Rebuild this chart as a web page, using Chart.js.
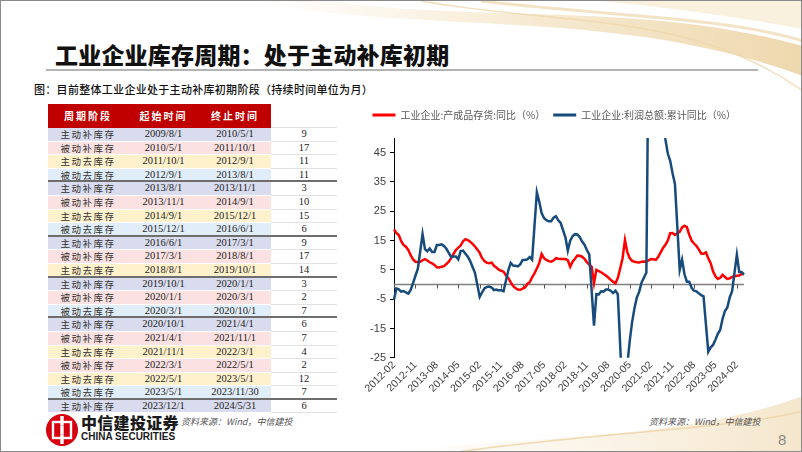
<!DOCTYPE html>
<html>
<head>
<meta charset="utf-8">
<script src="https://cdn.jsdelivr.net/npm/chart.js@4.4.1/dist/chart.umd.min.js"></script>
<style>
  html, body { margin: 0; padding: 0; background: #fff; }
  .slide {
    position: relative; width: 802px; height: 452px; overflow: hidden;
    box-sizing: border-box; border: 1px solid #8a8a8a; background: #fff;
    font-family: "Noto Sans CJK SC", sans-serif;
  }
  .deco { position: absolute; left: 0; top: 0; }
  .title {
    position: absolute; left: 54px; top: 36px; font-size: 23px; font-weight: 900;
    color: #111; letter-spacing: 0.2px; white-space: nowrap;
  }
  .rule { position: absolute; left: 45px; top: 68px; width: 712px; height: 2px; background: #b4b4b4; }
  .sub {
    position: absolute; left: 33px; top: 80px; font-size: 11px; font-weight: 500;
    color: #111; white-space: nowrap; letter-spacing: 0.3px;
  }
  #tbl { position: absolute; left: 47px; top: 103px; width: 289px; }
  .row { display: flex; height: 13.6px; box-sizing: border-box; }
  .row div { box-sizing: border-box; text-align: center; line-height: 12.6px; border-bottom: 1px solid #fff; }
  .hdr { height: 24px; background: #c00000; }
  .hdr div { color: #fff; font-size: 10px; font-weight: 700; letter-spacing: 2px; line-height: 24px; border: none; }
  .c1 { width: 80px; } .c2 { width: 71px; } .c3 { width: 72px; } .c4 { width: 66px; }
  .ph { font-size: 9.5px; letter-spacing: 1.5px; color: #333; }
  .dt { font-family: "Liberation Serif", serif; font-size: 10.5px; color: #222; }
  .row div.c4 { background: #fff; border-bottom: 1px solid #e2e2e2; }
  .row.brk div, .row.brk div.c4 { border-bottom: 2px solid #6e6e6e; }
  #chartBox { position: absolute; left: 340px; top: 101px; width: 440px; height: 294px; }
  .brand { position: absolute; left: 80px; top: 409px; font-size: 16px; font-weight: 900; color: #1a1a1a; letter-spacing: 0.3px; }
  .brand-en { position: absolute; left: 80px; top: 430px; font-family: "Liberation Sans", sans-serif; font-size: 10px; font-weight: 700; color: #1a1a1a; }
  .src { position: absolute; top: 414px; font-size: 9px; font-style: italic; color: #555; white-space: nowrap; }
  .page { position: absolute; left: 777px; top: 430px; font-family: "Liberation Sans", sans-serif; font-size: 15px; color: #8a8a8a; }
</style>
</head>
<body>
<div class="slide">
  <svg class="deco" width="802" height="452">
    <defs>
      <linearGradient id="g1" x1="0" y1="0" x2="1" y2="0">
        <stop offset="0" stop-color="#f3e2c0" stop-opacity="0"/>
        <stop offset="0.5" stop-color="#f1dcb4" stop-opacity="0.6"/>
        <stop offset="1" stop-color="#ecd3a4" stop-opacity="0.9"/>
      </linearGradient>
      <linearGradient id="g2" x1="0" y1="0" x2="1" y2="0">
        <stop offset="0" stop-color="#f3e2c0" stop-opacity="0"/>
        <stop offset="1" stop-color="#efd8ae" stop-opacity="0.9"/>
      </linearGradient>
    </defs>
    <path d="M250,0 C430,35 610,5 802,75 L802,45 C640,0 480,22 330,0 Z" fill="url(#g1)"/>
    <path d="M420,0 C560,25 690,10 802,90" fill="none" stroke="#eed7ac" stroke-width="1.5" opacity="0.8"/>
    <path d="M480,0 C600,15 720,15 802,40" fill="none" stroke="#f0dcb6" stroke-width="3" opacity="0.8"/>
    <path d="M600,0 C680,8 750,18 802,28 L802,0 Z" fill="#f5e6c8" opacity="0.6"/>
    <path d="M380,452 C520,435 680,440 802,395 L802,452 Z" fill="url(#g2)" opacity="0.7"/>
    <path d="M450,452 C600,430 720,430 802,410" fill="none" stroke="#ecd2a2" stroke-width="1.5" opacity="0.8"/>
  </svg>

  <div class="title">工业企业库存周期：处于主动补库初期</div>
  <div class="rule"></div>
  <div class="sub">图：目前整体工业企业处于主动补库初期阶段（持续时间单位为月）</div>

  <div id="tbl"></div>

  <div id="chartBox"><canvas id="myChart"></canvas></div>

  <svg style="position:absolute;left:44px;top:412px" width="34" height="34">
    <circle cx="17" cy="17" r="16" fill="#d7000f"/>
    <rect x="8" y="9" width="18" height="16" fill="none" stroke="#fff" stroke-width="2.4"/>
    <rect x="15.3" y="3" width="3.4" height="28" fill="#fff"/>
    <rect x="12" y="12.5" width="10" height="9" fill="#d7000f"/>
    <rect x="15.3" y="12.5" width="3.4" height="9" fill="#fff"/>
  </svg>
  <div class="brand">中信建投证券</div>
  <div class="brand-en">CHINA SECURITIES</div>
  <div class="src" style="left:180px">资料来源：Wind，中信建投</div>
  <div class="src" style="left:648px">资料来源：Wind，中信建投</div>
  <div class="page">8</div>
</div>

<script>
// table
const phaseNames = ['主动补库存', '被动补库存', '主动去库存', '被动去库存',
  '主动补库存', '被动补库存', '主动去库存', '被动去库存',
  '主动补库存', '被动补库存', '主动去库存',
  '主动补库存', '被动补库存', '被动去库存',
  '主动补库存', '被动补库存', '主动去库存', '被动补库存', '主动去库存', '被动去库存',
  '主动补库存'];
const startDates = ['2009/8/1', '2010/5/1', '2011/10/1', '2012/9/1',
  '2013/8/1', '2013/11/1', '2014/9/1', '2015/12/1',
  '2016/6/1', '2017/3/1', '2018/8/1',
  '2019/10/1', '2020/1/1', '2020/3/1',
  '2020/10/1', '2021/4/1', '2021/11/1', '2022/3/1', '2022/5/1', '2023/5/1',
  '2023/12/1'];
const endDates = ['2010/5/1', '2011/10/1', '2012/9/1', '2013/8/1',
  '2013/11/1', '2014/9/1', '2015/12/1', '2016/6/1',
  '2017/3/1', '2018/8/1', '2019/10/1',
  '2020/1/1', '2020/3/1', '2020/10/1',
  '2021/4/1', '2021/11/1', '2022/3/1', '2022/5/1', '2023/5/1', '2023/11/30',
  '2024/5/31'];
const durations = [9, 17, 11, 11, 3, 10, 15, 6, 9, 17, 14, 3, 2, 7, 6, 7, 4, 2, 12, 7, 6];
const tableHeader = ['周期阶段', '起始时间', '终止时间', '持续时间'];

// chart
const months = [];
for (let yr = 2012; yr <= 2024; yr++) {
  for (let m = 1; m <= 12; m++) {
    if ((yr === 2012 && m < 2) || (yr === 2024 && m > 5)) continue;
    months.push(yr + '-' + String(m).padStart(2, '0'));
  }
}
const tickLabels = ['2012-02', '2012-11', '2013-08', '2014-05', '2015-02', '2015-11', '2016-08',
  '2017-05', '2018-02', '2018-11', '2019-08', '2020-05', '2021-02', '2021-11', '2022-08',
  '2023-05', '2024-02'];
const yTicks = [-25, -15, -5, 5, 15, 25, 35, 45];

// 工业企业:产成品存货:同比
const inventoryYoy = [
  18.8, 17.6, 16.9, 14.8, 13.5, 12.9, 11.8, 10.0, 8.6, 7.8, 7.7,
  7.8, 8.3, 8.7, 8.2, 7.6, 7.2, 6.7, 5.9, 5.8, 6.1, 6.3, 7.0,
  7.8, 9.0, 10.5, 11.8, 12.6, 13.3, 14.8, 15.5, 15.2, 14.6, 13.9, 13.0,
  12.0, 10.8, 9.0, 8.0, 7.4, 7.3, 7.5, 6.4, 5.8, 5.1, 4.7, 4.4,
  3.2, 2.2, 0.8, -0.5, -1.2, -1.7, -1.8, -1.4, -1.0, 0.2, 0.8, 2.5,
  3.8, 5.5, 7.3, 10.4, 9.0, 8.4, 8.0, 7.8, 8.2, 9.0, 8.8, 8.7,
  8.7, 8.7, 8.3, 6.1, 7.8, 8.8, 9.9, 9.8, 9.5, 8.8, 7.6, 6.8,
  6.1, 0.5, 5.0, 4.6, 4.2, 3.6, 3.1, 2.4, 1.6, 1.0, 0.4, 2.2,
  5.5, 9.0, 15.2, 11.0, 9.0, 8.1, 7.8, 7.6, 7.5, 7.8, 7.9, 7.8,
  8.3, 8.7, 8.6, 8.4, 9.5, 11.0, 12.5, 13.6, 15.0, 17.5, 17.6, 16.9,
  17.5, 18.0, 19.5, 20.1, 19.6, 17.0, 15.0, 14.0, 13.2, 12.0, 10.6, 10.5,
  11.0, 9.0, 7.3, 4.5, 2.8, 1.9, 2.3, 3.3, 2.6, 1.9, 2.1, 2.6,
  2.8, 3.0, 3.1, 3.6, 3.6
];
// 工业企业:利润总额:累计同比 (1月无数据)
const profitYtdYoy = [
  -5.2, -1.3, -1.6, -2.4, -2.2, -2.7, -3.1, -1.8, 0.5, 3.0, 5.3,
  null, 17.2, 12.1, 11.4, 12.3, 11.1, 11.1, 13.5, 13.5, 13.7, 13.2, 12.2,
  null, 9.4, 9.6, 9.6, 8.6, 11.4, 11.6, 10.5, 9.5, 8.0, 6.0, 4.0,
  null, -4.2, -2.7, -1.3, -0.8, -0.7, -1.0, -1.9, -1.7, -2.0, -1.9, -2.3,
  null, 4.8, 7.4, 6.5, 6.4, 6.2, 6.9, 8.4, 8.4, 8.6, 9.4, 8.5,
  null, 31.5, 28.3, 24.4, 22.7, 22.0, 21.6, 21.6, 22.8, 23.3, 21.9, 21.0,
  null, 16.1, 11.6, 15.0, 16.5, 17.2, 17.1, 16.2, 14.7, 13.6, 11.8, 10.3,
  null, -14.0, -3.3, -3.4, -2.3, -2.4, -1.7, -1.7, -2.1, -2.9, -2.1, -3.3,
  null, -38.3, -36.7, -27.4, -19.3, -12.8, -8.1, -4.4, -2.4, 0.7, 2.4, 4.1,
  null, 178.9, 137.3, 106.0, 83.4, 66.9, 57.3, 49.5, 44.7, 42.2, 38.0, 34.3,
  null, 5.0, 8.5, 3.5, 1.0, 1.0, -1.1, -2.1, -2.3, -3.0, -3.6, -4.0,
  null, -22.9, -21.4, -20.6, -18.8, -16.8, -15.5, -11.7, -9.0, -7.8, -4.4, -2.3,
  null, 10.2, 4.3, 4.3, 3.4
];

const phaseColors = {
  '主动补库存': '#d9dcee',
  '被动补库存': '#fbe1e1',
  '主动去库存': '#fff1cb',
  '被动去库存': '#e1eef9'
};
const cycleBreaks = [3, 7, 10, 13, 19]; // 每轮周期结束的行

const buildTable = () => {
  const tbl = document.getElementById('tbl');
  let html = '<div class="row hdr">' + tableHeader.map((h, i) => `<div class="c${i + 1}">${h}</div>`).join('') + '</div>';
  phaseNames.forEach((p, i) => {
    const bg = phaseColors[p];
    const brk = cycleBreaks.includes(i) ? ' brk' : '';
    html += `<div class="row${brk}">` +
      `<div class="c1 ph" style="background:${bg}">${p}</div>` +
      `<div class="c2 dt" style="background:${bg}">${startDates[i]}</div>` +
      `<div class="c3 dt" style="background:${bg}">${endDates[i]}</div>` +
      `<div class="c4 dt">${durations[i]}</div></div>`;
  });
  tbl.innerHTML = html;
};

// 零轴 + 刻度
const zeroAxis = {
  id: 'zeroAxis',
  beforeDatasetsDraw(chart) {
    const { ctx, chartArea, scales } = chart;
    const y0 = scales.y.getPixelForValue(0);
    ctx.save();
    ctx.strokeStyle = '#808080';
    ctx.lineWidth = 1.6;
    ctx.beginPath();
    ctx.moveTo(chartArea.left, y0);
    ctx.lineTo(chartArea.right, y0);
    ctx.stroke();
    ctx.lineWidth = 1;
    ctx.strokeStyle = '#555';
    tickLabels.forEach(l => {
      const px = Math.round(scales.x.getPixelForValue(months.indexOf(l))) + 0.5;
      ctx.beginPath();
      ctx.moveTo(px, y0);
      ctx.lineTo(px, y0 + 4);
      ctx.stroke();
    });
    ctx.restore();
  }
};

const legendGap = {
  id: 'legendGap',
  beforeInit(chart) {
    const fit = chart.legend.fit;
    chart.legend.fit = function () {
      fit.bind(chart.legend)();
      this.height += 8;
    };
  }
};

const drawChart = () => {
  const ctx = document.getElementById('myChart').getContext('2d');
  new Chart(ctx, {
    type: 'line',
    data: {
      labels: months,
      datasets: [{
        label: '工业企业:产成品存货:同比（%）',
        data: inventoryYoy,
        borderColor: '#ff0000',
        backgroundColor: '#ff0000',
        borderWidth: 2.5,
        pointRadius: 0,
        order: 2
      }, {
        label: '工业企业:利润总额:累计同比（%）',
        data: profitYtdYoy,
        borderColor: '#174b7c',
        backgroundColor: '#174b7c',
        borderWidth: 2.5,
        pointRadius: 0,
        spanGaps: true,
        order: 1
      }]
    },
    options: {
      animation: false,
      responsive: true,
      maintainAspectRatio: false,
      layout: { padding: { right: 37 } },
      scales: {
        x: {
          grid: { display: false, drawTicks: false },
          border: { display: false },
          afterFit: s => { s.paddingRight = 8; },
          ticks: {
            autoSkip: false,
            minRotation: 45,
            maxRotation: 45,
            padding: 1,
            color: '#404040',
            font: { family: 'Liberation Sans', size: 10.5 },
            callback: function (value) {
              const l = this.getLabelForValue(value);
              return tickLabels.includes(l) ? l : '';
            }
          }
        },
        y: {
          min: -25,
          max: 50,
          afterBuildTicks: s => { s.ticks = yTicks.map(v => ({ value: v })); },
          afterFit: s => { s.width = 53; },
          border: { display: true, color: '#000', width: 1 },
          grid: { drawOnChartArea: false, drawTicks: true, tickLength: 4, color: '#000' },
          ticks: {
            padding: 4,
            color: '#404040',
            font: { family: 'Liberation Sans', size: 11 }
          }
        }
      },
      plugins: {
        legend: {
          position: 'top',
          align: 'end',
          labels: {
            boxWidth: 23,
            boxHeight: 3,
            padding: 8,
            color: '#595959',
            font: { family: '"Noto Sans CJK SC"', size: 10 },
            sort: (a, b) => a.datasetIndex - b.datasetIndex,
            generateLabels: chart => Chart.defaults.plugins.legend.labels.generateLabels(chart)
              .map(l => ({ ...l, lineWidth: 0, fillStyle: l.strokeStyle }))
          }
        },
        tooltip: { enabled: false }
      }
    },
    plugins: [zeroAxis, legendGap]
  });
};

document.addEventListener('DOMContentLoaded', function () {
  buildTable();
  drawChart();
});
</script>
</body>
</html>
